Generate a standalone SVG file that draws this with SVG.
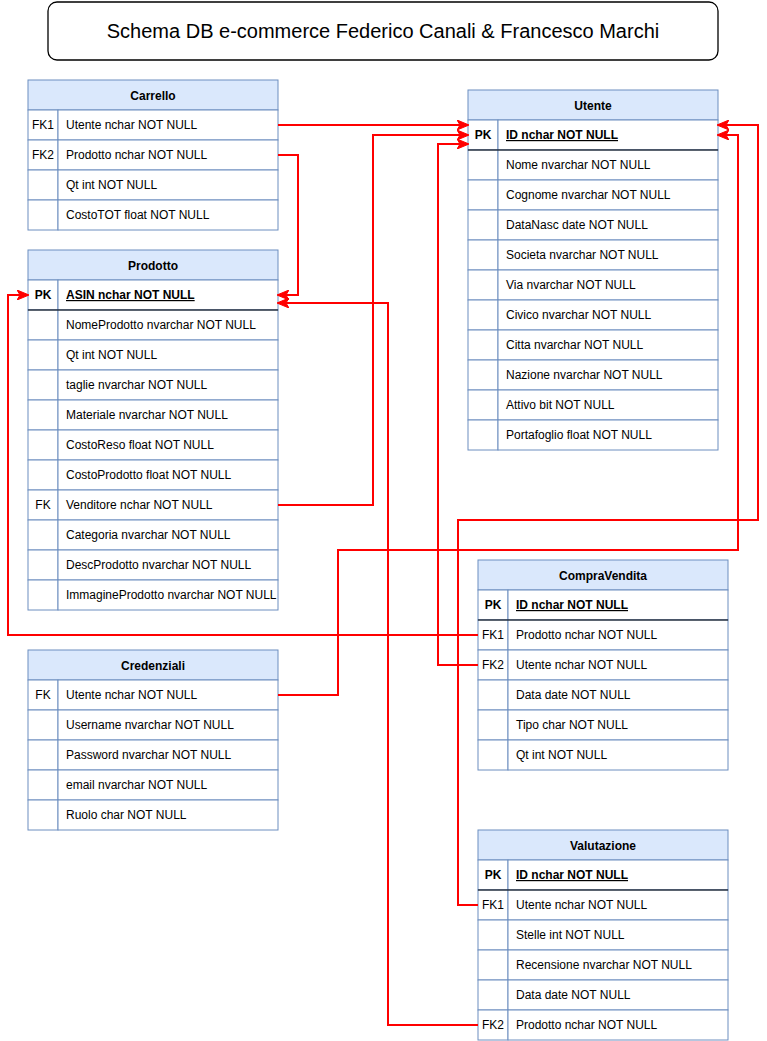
<svg xmlns="http://www.w3.org/2000/svg" width="767" height="1041" viewBox="0 0 767 1041">
<style>
text{font-family:"Liberation Sans",Arial,sans-serif;font-size:12px;fill:#000}
.h{fill:#dae8fc;stroke:#6c8ebf;stroke-width:1}
.r{fill:#fff;stroke:#6c8ebf;stroke-width:1}
.ht{font-weight:bold;text-anchor:middle}
.k{text-anchor:middle}
.pk{font-weight:bold}
.u{font-weight:bold;text-decoration:underline}
.sep{stroke:#000;stroke-width:1}
.c{fill:none;stroke:#ff0000;stroke-width:2;marker-end:url(#a)}
.title{font-size:20px;text-anchor:middle}
</style>
<defs>
<marker id="a" markerUnits="userSpaceOnUse" markerWidth="12" markerHeight="10" refX="11" refY="5" orient="auto" viewBox="0 0 12 10">
<path d="M0,0 L12,5 L0,10 L3,5 Z" fill="#ff0000" stroke="#ff0000" stroke-width="1"/>
</marker>
</defs>
<rect width="767" height="1041" fill="#fff"/>
<g id="title">
<rect x="48" y="2" width="670" height="58" rx="9" fill="#fff" stroke="#000" stroke-width="1.3"/>
<text class="title" x="383" y="38">Schema DB e-commerce Federico Canali &amp; Francesco Marchi</text>
</g>
<g id="Carrello">
<rect class="h" x="28" y="80" width="250" height="30"/>
<text class="ht" x="153" y="100">Carrello</text>
<rect class="r" x="28" y="110" width="30" height="30"/><rect class="r" x="58" y="110" width="220" height="30"/>
<rect class="r" x="28" y="140" width="30" height="30"/><rect class="r" x="58" y="140" width="220" height="30"/>
<rect class="r" x="28" y="170" width="30" height="30"/><rect class="r" x="58" y="170" width="220" height="30"/>
<rect class="r" x="28" y="200" width="30" height="30"/><rect class="r" x="58" y="200" width="220" height="30"/>
<text class="k" x="43" y="129">FK1</text><text x="66" y="129">Utente nchar NOT NULL</text>
<text class="k" x="43" y="159">FK2</text><text x="66" y="159">Prodotto nchar NOT NULL</text>
<text x="66" y="189">Qt int NOT NULL</text>
<text x="66" y="219">CostoTOT float NOT NULL</text>
</g>
<g id="Prodotto">
<rect class="h" x="28" y="250" width="250" height="30"/>
<text class="ht" x="153" y="270">Prodotto</text>
<rect class="r" x="28" y="280" width="30" height="30"/><rect class="r" x="58" y="280" width="220" height="30"/>
<rect class="r" x="28" y="310" width="30" height="30"/><rect class="r" x="58" y="310" width="220" height="30"/>
<rect class="r" x="28" y="340" width="30" height="30"/><rect class="r" x="58" y="340" width="220" height="30"/>
<rect class="r" x="28" y="370" width="30" height="30"/><rect class="r" x="58" y="370" width="220" height="30"/>
<rect class="r" x="28" y="400" width="30" height="30"/><rect class="r" x="58" y="400" width="220" height="30"/>
<rect class="r" x="28" y="430" width="30" height="30"/><rect class="r" x="58" y="430" width="220" height="30"/>
<rect class="r" x="28" y="460" width="30" height="30"/><rect class="r" x="58" y="460" width="220" height="30"/>
<rect class="r" x="28" y="490" width="30" height="30"/><rect class="r" x="58" y="490" width="220" height="30"/>
<rect class="r" x="28" y="520" width="30" height="30"/><rect class="r" x="58" y="520" width="220" height="30"/>
<rect class="r" x="28" y="550" width="30" height="30"/><rect class="r" x="58" y="550" width="220" height="30"/>
<rect class="r" x="28" y="580" width="30" height="30"/><rect class="r" x="58" y="580" width="220" height="30"/>
<line class="sep" x1="28" y1="310" x2="278" y2="310"/>
<text class="k pk" x="43" y="299">PK</text><text class="u" x="66" y="299">ASIN nchar NOT NULL</text>
<text x="66" y="329">NomeProdotto nvarchar NOT NULL</text>
<text x="66" y="359">Qt int NOT NULL</text>
<text x="66" y="389">taglie nvarchar NOT NULL</text>
<text x="66" y="419">Materiale nvarchar NOT NULL</text>
<text x="66" y="449">CostoReso float NOT NULL</text>
<text x="66" y="479">CostoProdotto float NOT NULL</text>
<text class="k" x="43" y="509">FK</text><text x="66" y="509">Venditore nchar NOT NULL</text>
<text x="66" y="539">Categoria nvarchar NOT NULL</text>
<text x="66" y="569">DescProdotto nvarchar NOT NULL</text>
<text x="66" y="599">ImmagineProdotto nvarchar NOT NULL</text>
</g>
<g id="Utente">
<rect class="h" x="468" y="90" width="250" height="30"/>
<text class="ht" x="593" y="110">Utente</text>
<rect class="r" x="468" y="120" width="30" height="30"/><rect class="r" x="498" y="120" width="220" height="30"/>
<rect class="r" x="468" y="150" width="30" height="30"/><rect class="r" x="498" y="150" width="220" height="30"/>
<rect class="r" x="468" y="180" width="30" height="30"/><rect class="r" x="498" y="180" width="220" height="30"/>
<rect class="r" x="468" y="210" width="30" height="30"/><rect class="r" x="498" y="210" width="220" height="30"/>
<rect class="r" x="468" y="240" width="30" height="30"/><rect class="r" x="498" y="240" width="220" height="30"/>
<rect class="r" x="468" y="270" width="30" height="30"/><rect class="r" x="498" y="270" width="220" height="30"/>
<rect class="r" x="468" y="300" width="30" height="30"/><rect class="r" x="498" y="300" width="220" height="30"/>
<rect class="r" x="468" y="330" width="30" height="30"/><rect class="r" x="498" y="330" width="220" height="30"/>
<rect class="r" x="468" y="360" width="30" height="30"/><rect class="r" x="498" y="360" width="220" height="30"/>
<rect class="r" x="468" y="390" width="30" height="30"/><rect class="r" x="498" y="390" width="220" height="30"/>
<rect class="r" x="468" y="420" width="30" height="30"/><rect class="r" x="498" y="420" width="220" height="30"/>
<line class="sep" x1="468" y1="150" x2="718" y2="150"/>
<text class="k pk" x="483" y="139">PK</text><text class="u" x="506" y="139">ID nchar NOT NULL</text>
<text x="506" y="169">Nome nvarchar NOT NULL</text>
<text x="506" y="199">Cognome nvarchar NOT NULL</text>
<text x="506" y="229">DataNasc date NOT NULL</text>
<text x="506" y="259">Societa nvarchar NOT NULL</text>
<text x="506" y="289">Via nvarchar NOT NULL</text>
<text x="506" y="319">Civico nvarchar NOT NULL</text>
<text x="506" y="349">Citta nvarchar NOT NULL</text>
<text x="506" y="379">Nazione nvarchar NOT NULL</text>
<text x="506" y="409">Attivo bit NOT NULL</text>
<text x="506" y="439">Portafoglio float NOT NULL</text>
</g>
<g id="CompraVendita">
<rect class="h" x="478" y="560" width="250" height="30"/>
<text class="ht" x="603" y="580">CompraVendita</text>
<rect class="r" x="478" y="590" width="30" height="30"/><rect class="r" x="508" y="590" width="220" height="30"/>
<rect class="r" x="478" y="620" width="30" height="30"/><rect class="r" x="508" y="620" width="220" height="30"/>
<rect class="r" x="478" y="650" width="30" height="30"/><rect class="r" x="508" y="650" width="220" height="30"/>
<rect class="r" x="478" y="680" width="30" height="30"/><rect class="r" x="508" y="680" width="220" height="30"/>
<rect class="r" x="478" y="710" width="30" height="30"/><rect class="r" x="508" y="710" width="220" height="30"/>
<rect class="r" x="478" y="740" width="30" height="30"/><rect class="r" x="508" y="740" width="220" height="30"/>
<line class="sep" x1="478" y1="620" x2="728" y2="620"/>
<text class="k pk" x="493" y="609">PK</text><text class="u" x="516" y="609">ID nchar NOT NULL</text>
<text class="k" x="493" y="639">FK1</text><text x="516" y="639">Prodotto nchar NOT NULL</text>
<text class="k" x="493" y="669">FK2</text><text x="516" y="669">Utente nchar NOT NULL</text>
<text x="516" y="699">Data date NOT NULL</text>
<text x="516" y="729">Tipo char NOT NULL</text>
<text x="516" y="759">Qt int NOT NULL</text>
</g>
<g id="Credenziali">
<rect class="h" x="28" y="650" width="250" height="30"/>
<text class="ht" x="153" y="670">Credenziali</text>
<rect class="r" x="28" y="680" width="30" height="30"/><rect class="r" x="58" y="680" width="220" height="30"/>
<rect class="r" x="28" y="710" width="30" height="30"/><rect class="r" x="58" y="710" width="220" height="30"/>
<rect class="r" x="28" y="740" width="30" height="30"/><rect class="r" x="58" y="740" width="220" height="30"/>
<rect class="r" x="28" y="770" width="30" height="30"/><rect class="r" x="58" y="770" width="220" height="30"/>
<rect class="r" x="28" y="800" width="30" height="30"/><rect class="r" x="58" y="800" width="220" height="30"/>
<text class="k" x="43" y="699">FK</text><text x="66" y="699">Utente nchar NOT NULL</text>
<text x="66" y="729">Username nvarchar NOT NULL</text>
<text x="66" y="759">Password nvarchar NOT NULL</text>
<text x="66" y="789">email nvarchar NOT NULL</text>
<text x="66" y="819">Ruolo char NOT NULL</text>
</g>
<g id="Valutazione">
<rect class="h" x="478" y="830" width="250" height="30"/>
<text class="ht" x="603" y="850">Valutazione</text>
<rect class="r" x="478" y="860" width="30" height="30"/><rect class="r" x="508" y="860" width="220" height="30"/>
<rect class="r" x="478" y="890" width="30" height="30"/><rect class="r" x="508" y="890" width="220" height="30"/>
<rect class="r" x="478" y="920" width="30" height="30"/><rect class="r" x="508" y="920" width="220" height="30"/>
<rect class="r" x="478" y="950" width="30" height="30"/><rect class="r" x="508" y="950" width="220" height="30"/>
<rect class="r" x="478" y="980" width="30" height="30"/><rect class="r" x="508" y="980" width="220" height="30"/>
<rect class="r" x="478" y="1010" width="30" height="30"/><rect class="r" x="508" y="1010" width="220" height="30"/>
<line class="sep" x1="478" y1="890" x2="728" y2="890"/>
<text class="k pk" x="493" y="879">PK</text><text class="u" x="516" y="879">ID nchar NOT NULL</text>
<text class="k" x="493" y="909">FK1</text><text x="516" y="909">Utente nchar NOT NULL</text>
<text x="516" y="939">Stelle int NOT NULL</text>
<text x="516" y="969">Recensione nvarchar NOT NULL</text>
<text x="516" y="999">Data date NOT NULL</text>
<text class="k" x="493" y="1029">FK2</text><text x="516" y="1029">Prodotto nchar NOT NULL</text>
</g>
<g id="connectors">
<path class="c" d="M278,125 H468"/>
<path class="c" d="M278,155 H298 V295 H278"/>
<path class="c" d="M278,505 H373 V135 H468"/>
<path class="c" d="M478,635 H8 V295 H28"/>
<path class="c" d="M478,665 H438 V144 H468"/>
<path class="c" d="M278,695 H338 V550 H738 V135 H718"/>
<path class="c" d="M478,905 H458 V520 H758 V125 H718"/>
<path class="c" d="M478,1025 H388 V303 H278"/>
</g>
</svg>
